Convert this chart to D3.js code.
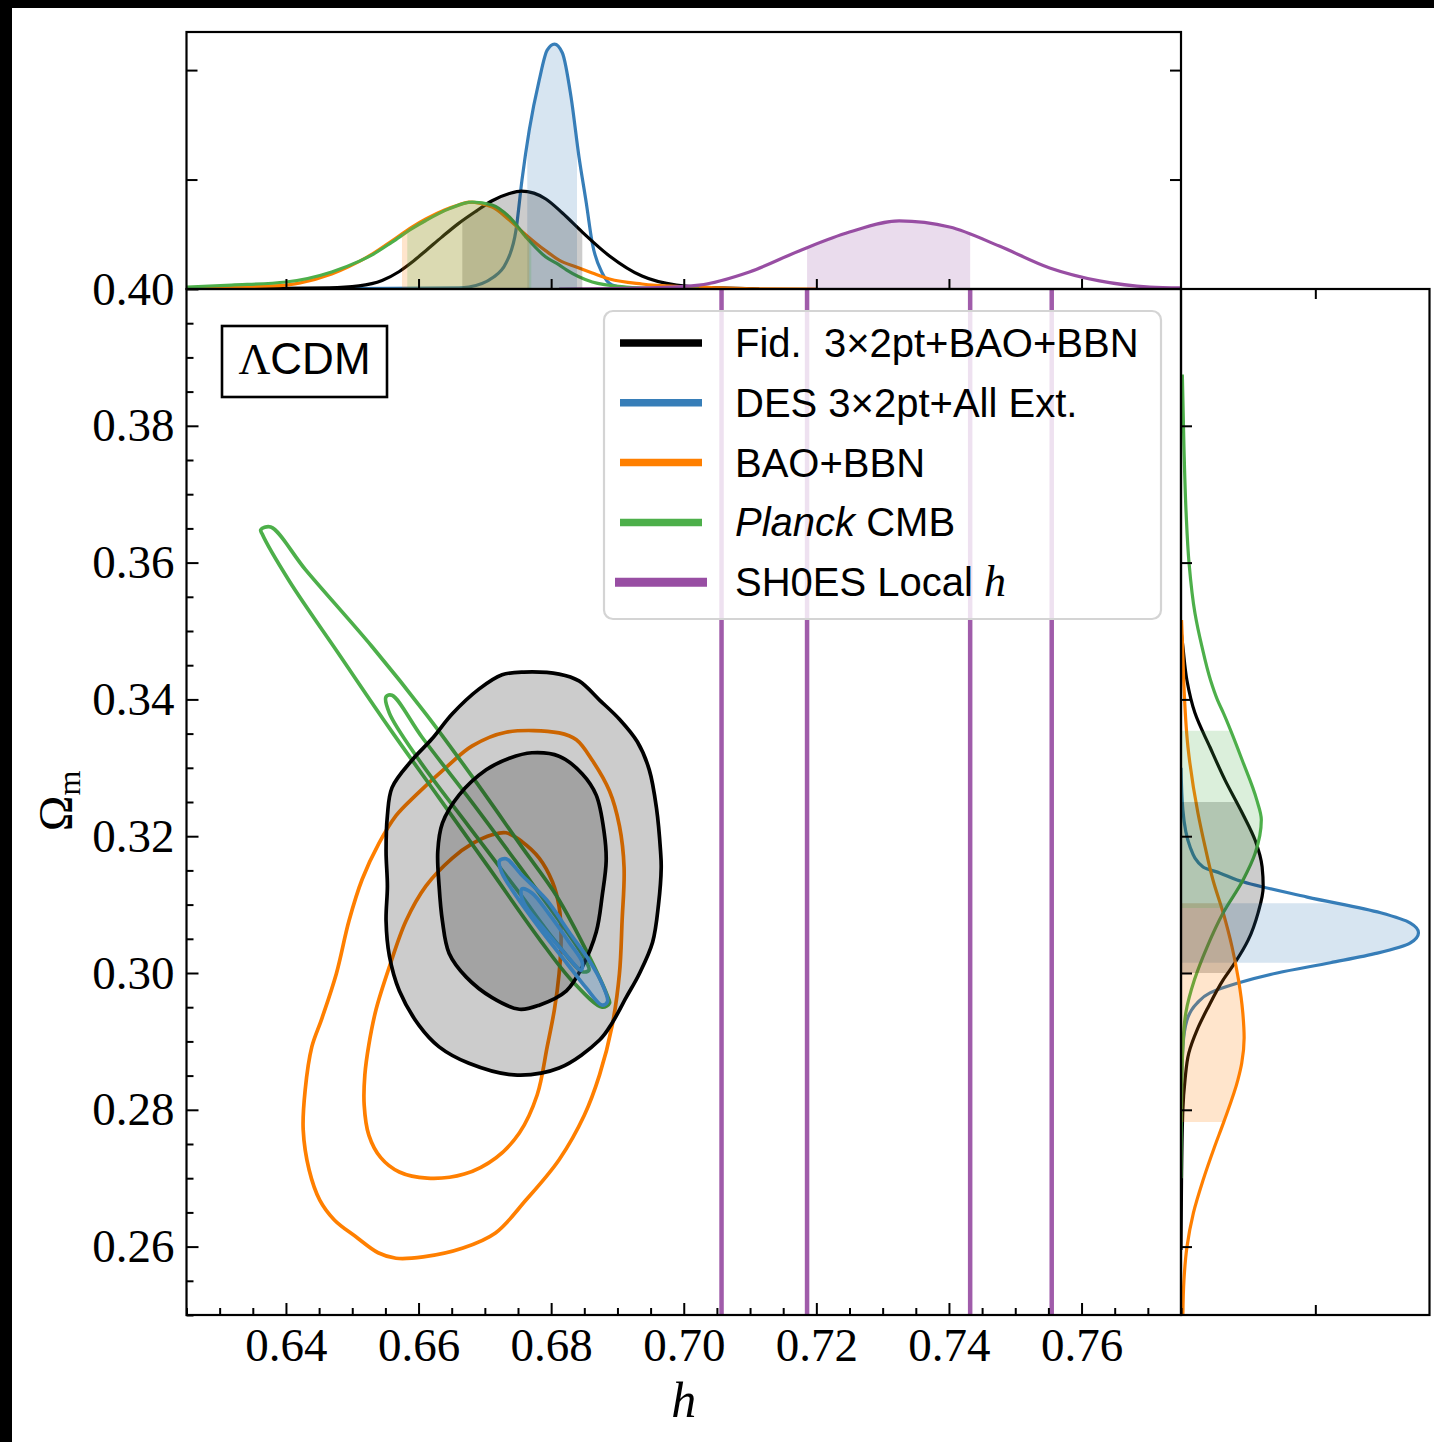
<!DOCTYPE html>
<html>
<head>
<meta charset="utf-8">
<script src="https://cdn.jsdelivr.net/npm/d3@7"></script>
<style>
  html, body { margin: 0; padding: 0; background: #000; }
  svg { display: block; }
  text { white-space: pre; }
</style>
</head>
<body>
<svg id="chart" width="1434" height="1442"></svg>
<script>
// ---------- axis ticks ----------
const hTicks = [0.64, 0.66, 0.68, 0.70, 0.72, 0.74, 0.76];
const hTickLabels = ["0.64", "0.66", "0.68", "0.70", "0.72", "0.74", "0.76"];
const omTicks = [0.26, 0.28, 0.30, 0.32, 0.34, 0.36, 0.38, 0.40];
const omTickLabels = ["0.26", "0.28", "0.30", "0.32", "0.34", "0.36", "0.38", "0.40"];
const densTicksTop = [50, 100];
const densTicksRight = [50];

// ---------- series ----------
const seriesNames = ["Fid. 3×2pt+BAO+BBN", "DES 3×2pt+All Ext.", "BAO+BBN", "Planck CMB", "SH0ES Local h"];
const seriesColors = ["#000000", "#377eb8", "#ff7f00", "#4daf4a", "#984ea3"];

// SH0ES local h: 2σ / 1σ bounds
const shoesBounds = [0.7057, 0.7186, 0.7432, 0.7555];

// ---------- 1D marginals in h : [h, density] ----------
const hFid = [[0.625,0],[0.6465,0.5],[0.6510,1.4],[0.6545,3.9],[0.6571,8.0],[0.6590,12.2],[0.6611,17.5],[0.6635,23.7],[0.6661,30.1],[0.6687,35.6],[0.6711,40.3],[0.6737,43.6],[0.6755,44.7],[0.6774,43.8],[0.6792,41.1],[0.6817,34.7],[0.6847,26.0],[0.6888,15.1],[0.6937,5.9],[0.6989,1.8],[0.7054,0.5],[0.7114,0]];
const hDES = [[0.640,0],[0.6661,0.5],[0.6676,0.9],[0.6711,5.0],[0.6732,11.9],[0.6747,26.9],[0.6756,49.8],[0.6767,72.6],[0.6782,95.4],[0.6794,109.1],[0.6805,111.9],[0.6817,107.8],[0.6830,87.7],[0.6842,60.3],[0.6853,39.3],[0.6862,21.0],[0.6877,7.3],[0.6892,1.8],[0.6913,0.5],[0.705,0]];
const hBAO = [[0.625,0.1],[0.6318,0.9],[0.6400,1.8],[0.6420,2.7],[0.6469,6.8],[0.6495,10.2],[0.6530,15.9],[0.6560,22.0],[0.6590,28.3],[0.6611,32.0],[0.6640,36.2],[0.6661,38.5],[0.6676,39.7],[0.6711,37.4],[0.6737,31.5],[0.6762,24.7],[0.6792,17.4],[0.6812,13.2],[0.6838,10.0],[0.6862,7.3],[0.6888,4.6],[0.6937,2.3],[0.6993,1.1],[0.7054,0.5],[0.7114,0.1],[0.7200,0]];
const hPlanck = [[0.625,0.9],[0.6318,1.8],[0.6400,3.2],[0.6469,7.8],[0.6510,12.6],[0.6530,15.6],[0.6560,21.4],[0.6590,27.6],[0.6611,31.3],[0.6646,36.6],[0.6681,39.7],[0.6711,38.4],[0.6737,32.9],[0.6762,23.7],[0.6792,14.6],[0.6812,11.0],[0.6823,8.7],[0.6862,3.2],[0.6913,0.9],[0.6963,0.2],[0.7023,0]];
const hSHOES = [[0.6812,0],[0.6948,0.5],[0.7023,1.8],[0.7099,7.8],[0.7174,17.4],[0.7250,26.0],[0.7325,31.1],[0.7401,28.3],[0.7476,19.6],[0.7552,9.6],[0.7627,3.7],[0.7703,0.9],[0.7750,0.5]];

// 68% intervals in h
const hFidCI = [0.6666, 0.6847];
const hDESCI = [0.6764, 0.6839];
const hBAOCI = [0.6575, 0.6767];
const hPlanckCI = [0.6583, 0.6770];
const hSHOESCI = [0.7186, 0.7432];

// ---------- 1D marginals in Omega_m : [Om, density] ----------
const omFid = [[0.3501,0],[0.3477,0.7],[0.3428,2.2],[0.3380,5.2],[0.3330,10.8],[0.3282,16.4],[0.3234,22.8],[0.3194,27.6],[0.3155,30.2],[0.3126,30.6],[0.3088,28.7],[0.3048,25.0],[0.3015,20.1],[0.2990,15.7],[0.2950,10.1],[0.2917,6.0],[0.2883,2.9],[0.2844,1.5],[0.2800,0.7],[0.2697,0.2],[0.2595,0]];
const omDES = [[0.3300,0],[0.3238,0.7],[0.3184,3.4],[0.3155,8.2],[0.3146,14.6],[0.3136,20.9],[0.3111,47.0],[0.3088,74.3],[0.3073,85.4],[0.3059,88.4],[0.3044,85.4],[0.3029,73.1],[0.3015,55.6],[0.3000,35.8],[0.2985,20.9],[0.2971,10.8],[0.2956,6.0],[0.2931,2.2],[0.2892,0.7],[0.2800,0]];
const omBAO = [[0.3516,0.2],[0.3477,0.6],[0.3428,1.0],[0.3330,2.6],[0.3234,6.3],[0.3184,9.0],[0.3136,11.9],[0.3088,15.7],[0.3038,19.0],[0.2990,21.4],[0.2942,23.0],[0.2905,23.5],[0.2868,22.6],[0.2844,21.2],[0.2782,15.9],[0.2746,12.5],[0.2697,8.2],[0.2649,4.6],[0.2599,2.2],[0.2551,1.1],[0.2500,0.7]];
const omPlanck = [[0.3875,0.5],[0.3769,1.1],[0.3673,1.9],[0.3599,3.0],[0.3526,5.2],[0.3477,7.8],[0.3428,11.0],[0.3399,13.6],[0.3380,15.8],[0.3311,22.8],[0.3253,28.2],[0.3224,29.9],[0.3175,27.6],[0.3136,23.1],[0.3088,15.7],[0.3038,9.7],[0.2990,5.0],[0.2942,1.8],[0.2892,0.7],[0.2814,0.2],[0.2700,0]];

// 68% intervals in Omega_m
const omFidCI = [0.3000, 0.3250];
const omDESCI = [0.3015, 0.3102];
const omBAOCI = [0.2782, 0.3102];
const omPlanckCI = [0.3095, 0.3354];

// ---------- 2D contours : [h, Om] ----------
const fidOuter = [[0.6726,0.3436],[0.6759,0.3440],[0.6812,0.3437],[0.6842,0.3427],[0.6873,0.3399],[0.6903,0.3371],[0.6930,0.3338],[0.6948,0.3297],[0.6959,0.3240],[0.6965,0.3178],[0.6966,0.3154],[0.6962,0.3101],[0.6953,0.3045],[0.6933,0.2999],[0.6913,0.2964],[0.6892,0.2927],[0.6873,0.2902],[0.6812,0.2861],[0.6744,0.2851],[0.6676,0.2868],[0.6631,0.2892],[0.6601,0.2923],[0.6571,0.2974],[0.6556,0.3025],[0.6551,0.3076],[0.6553,0.3127],[0.6551,0.3178],[0.6553,0.3230],[0.6560,0.3271],[0.6590,0.3311],[0.6620,0.3342],[0.6651,0.3379],[0.6691,0.3415]];
const fidInner = [[0.6771,0.3322],[0.6812,0.3317],[0.6847,0.3291],[0.6868,0.3260],[0.6880,0.3205],[0.6883,0.3164],[0.6877,0.3113],[0.6868,0.3060],[0.6847,0.3009],[0.6823,0.2974],[0.6782,0.2953],[0.6752,0.2947],[0.6711,0.2964],[0.6672,0.2994],[0.6646,0.3029],[0.6636,0.3076],[0.6631,0.3127],[0.6629,0.3178],[0.6636,0.3219],[0.6661,0.3260],[0.6702,0.3297],[0.6737,0.3314]];
const baoOuter = [[0.6732,0.3352],[0.6812,0.3351],[0.6838,0.3341],[0.6862,0.3311],[0.6888,0.3266],[0.6903,0.3215],[0.6910,0.3154],[0.6907,0.3076],[0.6903,0.2999],[0.6892,0.2923],[0.6873,0.2851],[0.6850,0.2792],[0.6812,0.2727],[0.6762,0.2668],[0.6716,0.2620],[0.6667,0.2598],[0.6607,0.2585],[0.6566,0.2583],[0.6539,0.2591],[0.6506,0.2614],[0.6473,0.2639],[0.6451,0.2668],[0.6435,0.2712],[0.6426,0.2771],[0.6429,0.2829],[0.6439,0.2892],[0.6454,0.2933],[0.6476,0.2999],[0.6495,0.3076],[0.6515,0.3137],[0.6540,0.3189],[0.6566,0.3230],[0.6596,0.3260],[0.6642,0.3301],[0.6681,0.3332]];
const baoInner = [[0.6711,0.3202],[0.6732,0.3205],[0.6756,0.3192],[0.6782,0.3168],[0.6802,0.3133],[0.6812,0.3097],[0.6815,0.3050],[0.6812,0.2999],[0.6805,0.2947],[0.6794,0.2892],[0.6779,0.2822],[0.6752,0.2766],[0.6717,0.2730],[0.6669,0.2706],[0.6613,0.2700],[0.6571,0.2709],[0.6543,0.2730],[0.6525,0.2763],[0.6518,0.2807],[0.6519,0.2851],[0.6525,0.2895],[0.6536,0.2947],[0.6556,0.3009],[0.6581,0.3076],[0.6611,0.3127],[0.6651,0.3168],[0.6681,0.3189]];
const planckOuter = [[0.6362,0.3648],[0.6377,0.3652],[0.6430,0.3589],[0.6530,0.3477],[0.6611,0.3379],[0.6681,0.3287],[0.6756,0.3184],[0.6808,0.3113],[0.6857,0.3025],[0.6885,0.2966],[0.6888,0.2956],[0.6877,0.2950],[0.6832,0.2988],[0.6782,0.3050],[0.6706,0.3154],[0.6631,0.3256],[0.6556,0.3358],[0.6480,0.3466],[0.6405,0.3573],[0.6364,0.3642]];
const planckInner = [[0.6551,0.3404],[0.6560,0.3406],[0.6605,0.3345],[0.6681,0.3249],[0.6756,0.3151],[0.6808,0.3082],[0.6850,0.3022],[0.6857,0.3004],[0.6847,0.3002],[0.6805,0.3048],[0.6752,0.3117],[0.6676,0.3214],[0.6601,0.3311],[0.6556,0.3380]];
const desOuter = [[0.6722,0.3164],[0.6732,0.3167],[0.6756,0.3143],[0.6793,0.3107],[0.6827,0.3060],[0.6857,0.3019],[0.6877,0.2984],[0.6885,0.2958],[0.6877,0.2953],[0.6853,0.2978],[0.6823,0.3015],[0.6782,0.3066],[0.6747,0.3113],[0.6725,0.3148]];
const desInner = [[0.6756,0.3123],[0.6771,0.3117],[0.6797,0.3086],[0.6827,0.3045],[0.6847,0.3015],[0.6845,0.3004],[0.6824,0.3025],[0.6793,0.3060],[0.6762,0.3097],[0.6755,0.3113]];

// ---------- layout ----------
const W = 1434, H = 1442;
const M = { l: 186.5, r: 1181, t: 289, b: 1315 };   // joint panel
const T = { t: 32, b: 289 };                       // top marginal
const R = { l: 1181, r: 1429.5 };                  // right marginal

const serif = "'Liberation Serif', 'DejaVu Serif', serif";
const sans = "'Liberation Sans', 'DejaVu Sans', sans-serif";

const svg = d3.select("#chart");
svg.append("rect").attr("width", W).attr("height", H).attr("fill", "#000");
svg.append("rect").attr("x", 12).attr("y", 8).attr("width", W - 12).attr("height", H - 8).attr("fill", "#fff");

const x = d3.scaleLinear().domain([0.625, 0.775]).range([M.l, M.r]);
const y = d3.scaleLinear().domain([0.25, 0.40]).range([M.b, M.t]);
const yTop = d3.scaleLinear().domain([0, 117.4]).range([T.b, T.t]);
const xRight = d3.scaleLinear().domain([0, 92.5]).range([R.l, R.r]);

const defs = svg.append("defs");
function clipRect(id, x0, y0, x1, y1) {
  defs.append("clipPath").attr("id", id).append("rect")
    .attr("x", Math.min(x0, x1)).attr("y", Math.min(y0, y1))
    .attr("width", Math.abs(x1 - x0)).attr("height", Math.abs(y1 - y0));
  return "url(#" + id + ")";
}
const clipMain = clipRect("clip-main", M.l, M.t, M.r, M.b);
const clipTop = clipRect("clip-top", M.l, T.t, M.r, T.b);
const clipRight = clipRect("clip-right", R.l, M.t, R.r, M.b);

const margWidth = 3.2;
const contourWidth = 3.7;

// ---------- top marginal (h) ----------
const lineH = d3.line().x(d => x(d[0])).y(d => yTop(d[1])).curve(d3.curveMonotoneX);
const areaH = d3.area().x(d => x(d[0])).y0(yTop(0)).y1(d => yTop(d[1])).curve(d3.curveMonotoneX);

const topSeries = [
  { data: hDES, ci: hDESCI, color: seriesColors[1] },
  { data: hFid, ci: hFidCI, color: seriesColors[0] },
  { data: hBAO, ci: hBAOCI, color: seriesColors[2] },
  { data: hPlanck, ci: hPlanckCI, color: seriesColors[3] },
  { data: hSHOES, ci: hSHOESCI, color: seriesColors[4] }
];
const gTop = svg.append("g").attr("clip-path", clipTop);
topSeries.forEach(s => {
  gTop.append("path").attr("d", lineH(s.data)).attr("fill", "none")
    .attr("stroke", s.color).attr("stroke-width", margWidth);
});
topSeries.forEach((s, i) => {
  const cp = clipRect("ci-top-" + i, x(s.ci[0]), T.t, x(s.ci[1]), T.b);
  gTop.append("path").attr("d", areaH(s.data)).attr("clip-path", cp)
    .attr("fill", s.color).attr("fill-opacity", 0.2);
});

// ---------- right marginal (Omega_m) ----------
const lineOm = d3.line().x(d => xRight(d[1])).y(d => y(d[0])).curve(d3.curveMonotoneY);
const areaOm = d3.area().y(d => y(d[0])).x0(xRight(0)).x1(d => xRight(d[1])).curve(d3.curveMonotoneY);

const rightSeries = [
  { data: omDES, ci: omDESCI, color: seriesColors[1] },
  { data: omFid, ci: omFidCI, color: seriesColors[0] },
  { data: omBAO, ci: omBAOCI, color: seriesColors[2] },
  { data: omPlanck, ci: omPlanckCI, color: seriesColors[3] }
];
const gRight = svg.append("g").attr("clip-path", clipRight);
rightSeries.forEach(s => {
  gRight.append("path").attr("d", lineOm(s.data)).attr("fill", "none")
    .attr("stroke", s.color).attr("stroke-width", margWidth);
});
rightSeries.forEach((s, i) => {
  const cp = clipRect("ci-right-" + i, R.l, y(s.ci[1]), R.r, y(s.ci[0]));
  gRight.append("path").attr("d", areaOm(s.data)).attr("clip-path", cp)
    .attr("fill", s.color).attr("fill-opacity", 0.2);
});

// ---------- joint panel ----------
const gMain = svg.append("g").attr("clip-path", clipMain);
const closed = d3.line().x(d => x(d[0])).y(d => y(d[1])).curve(d3.curveCatmullRomClosed.alpha(0.5));

// SH0ES bounds
gMain.selectAll("line.shoes").data(shoesBounds).join("line")
  .attr("x1", d => x(d)).attr("x2", d => x(d))
  .attr("y1", M.t).attr("y2", M.b)
  .attr("stroke", seriesColors[4]).attr("stroke-width", 4.5).attr("stroke-opacity", 0.92);

// BAO+BBN and Planck: outlines only
[baoOuter, baoInner].forEach(c => gMain.append("path").attr("d", closed(c))
  .attr("fill", "none").attr("stroke", seriesColors[2]).attr("stroke-width", contourWidth));
[planckOuter, planckInner].forEach(c => gMain.append("path").attr("d", closed(c))
  .attr("fill", "none").attr("stroke", seriesColors[3]).attr("stroke-width", contourWidth));

// fiducial: filled
[fidOuter, fidInner].forEach(c => gMain.append("path").attr("d", closed(c))
  .attr("fill", "#000").attr("fill-opacity", 0.2));
[fidOuter, fidInner].forEach(c => gMain.append("path").attr("d", closed(c))
  .attr("fill", "none").attr("stroke", "#000").attr("stroke-width", contourWidth));

// DES all ext.: filled
[desOuter, desInner].forEach(c => gMain.append("path").attr("d", closed(c))
  .attr("fill", seriesColors[1]).attr("fill-opacity", 0.3));
[desOuter, desInner].forEach(c => gMain.append("path").attr("d", closed(c))
  .attr("fill", "none").attr("stroke", seriesColors[1]).attr("stroke-width", contourWidth));

// ---------- axes / ticks ----------
function styleTicks(g) {
  g.select(".domain").remove();
  g.selectAll(".tick line").attr("stroke", "#000").attr("stroke-width", 2);
}
const hMinor = d3.range(0.625, 0.7751, 0.005).filter(v => !hTicks.some(t => Math.abs(t - v) < 1e-6));
const omMinor = d3.range(0.25, 0.4001, 0.005).filter(v => !omTicks.some(t => Math.abs(t - v) < 1e-6));

// joint panel: bottom
svg.append("g").attr("transform", `translate(0,${M.b})`)
  .call(d3.axisBottom(x).tickValues(hMinor).tickSize(-7).tickFormat(""))
  .call(styleTicks);
const xAx = svg.append("g").attr("transform", `translate(0,${M.b})`)
  .call(d3.axisBottom(x).tickValues(hTicks).tickSize(-12).tickPadding(13)
    .tickFormat((d, i) => hTickLabels[i]))
  .call(styleTicks);
xAx.selectAll("text").attr("font-family", serif).attr("font-size", 47).attr("fill", "#000");

// joint panel: left
svg.append("g").attr("transform", `translate(${M.l},0)`)
  .call(d3.axisLeft(y).tickValues(omMinor).tickSize(-7).tickFormat(""))
  .call(styleTicks);
const yAx = svg.append("g").attr("transform", `translate(${M.l},0)`)
  .call(d3.axisLeft(y).tickValues(omTicks).tickSize(-12).tickPadding(12)
    .tickFormat((d, i) => omTickLabels[i]))
  .call(styleTicks);
yAx.selectAll("text").attr("font-family", serif).attr("font-size", 47).attr("fill", "#000");

// top panel ticks
svg.append("g").attr("transform", `translate(${M.l},0)`)
  .call(d3.axisLeft(yTop).tickValues(densTicksTop).tickSize(-11).tickFormat("")).call(styleTicks);
svg.append("g").attr("transform", `translate(${M.r},0)`)
  .call(d3.axisRight(yTop).tickValues(densTicksTop).tickSize(-11).tickFormat("")).call(styleTicks);
svg.append("g").attr("transform", `translate(0,${T.b})`)
  .call(d3.axisBottom(x).tickValues(hTicks).tickSize(-10).tickFormat("")).call(styleTicks);

// right panel ticks
svg.append("g").attr("transform", `translate(${R.l},0)`)
  .call(d3.axisLeft(y).tickValues(omTicks.slice(0, -1)).tickSize(-11).tickFormat("")).call(styleTicks);
svg.append("g").attr("transform", `translate(0,${M.t})`)
  .call(d3.axisTop(xRight).tickValues(densTicksRight).tickSize(-10).tickFormat("")).call(styleTicks);
svg.append("g").attr("transform", `translate(0,${M.b})`)
  .call(d3.axisBottom(xRight).tickValues(densTicksRight).tickSize(-10).tickFormat("")).call(styleTicks);

// frames
const frames = [
  [M.l, T.t, M.r, T.b],
  [M.l, M.t, M.r, M.b],
  [R.l, M.t, R.r, M.b]
];
svg.selectAll("rect.frame").data(frames).join("rect")
  .attr("x", d => d[0]).attr("y", d => d[1])
  .attr("width", d => d[2] - d[0]).attr("height", d => d[3] - d[1])
  .attr("fill", "none").attr("stroke", "#000").attr("stroke-width", 2.2);

// axis titles
svg.append("text").attr("x", (M.l + M.r) / 2).attr("y", 1417)
  .attr("text-anchor", "middle").attr("font-family", serif).attr("font-style", "italic")
  .attr("font-size", 50).text("h");
const yl = svg.append("text").attr("transform", `translate(72,${(M.t + M.b) / 2 - 1}) rotate(-90)`)
  .attr("text-anchor", "middle").attr("font-family", serif).attr("font-size", 48);
yl.append("tspan").text("Ω");
yl.append("tspan").attr("font-size", 32).attr("dy", 8).text("m");

// ---------- legend ----------
const lg = svg.append("g");
lg.append("rect").attr("x", 604).attr("y", 311).attr("width", 557).attr("height", 308)
  .attr("rx", 9).attr("fill", "#fff").attr("fill-opacity", 0.82)
  .attr("stroke", "#d4d4d4").attr("stroke-width", 2.2);
const legendRows = seriesNames.map((n, i) => ({ name: n, color: seriesColors[i], i }));
legendRows.forEach(r => {
  const cy = 343 + r.i * 59.8;
  const wide = r.i === 4;
  lg.append("line").attr("x1", wide ? 615 : 620).attr("x2", wide ? 707 : 702)
    .attr("y1", cy).attr("y2", cy).attr("stroke", r.color).attr("stroke-width", wide ? 9 : 7.5);
  const t = lg.append("text").attr("x", 735).attr("y", cy + 14)
    .attr("font-family", sans).attr("font-size", 40).attr("fill", "#000");
  if (r.name.startsWith("Fid.")) {
    t.text("Fid.  3×2pt+BAO+BBN");
  } else if (r.name.startsWith("Planck")) {
    t.append("tspan").attr("font-style", "italic").text("Planck");
    t.append("tspan").text(" CMB");
  } else if (r.name.startsWith("SH0ES")) {
    t.append("tspan").text("SH0ES Local ");
    t.append("tspan").attr("font-family", serif).attr("font-style", "italic").attr("font-size", 44).text("h");
  } else {
    t.text(r.name);
  }
});

// ---------- model label ----------
svg.append("rect").attr("x", 222).attr("y", 326).attr("width", 165).attr("height", 71)
  .attr("fill", "#fff").attr("stroke", "#000").attr("stroke-width", 2.6);
const ml = svg.append("text").attr("x", 304.5).attr("y", 374).attr("text-anchor", "middle")
  .attr("font-size", 44).attr("fill", "#000");
ml.append("tspan").attr("font-family", serif).text("Λ");
ml.append("tspan").attr("font-family", sans).text("CDM");
</script>
</body>
</html>
